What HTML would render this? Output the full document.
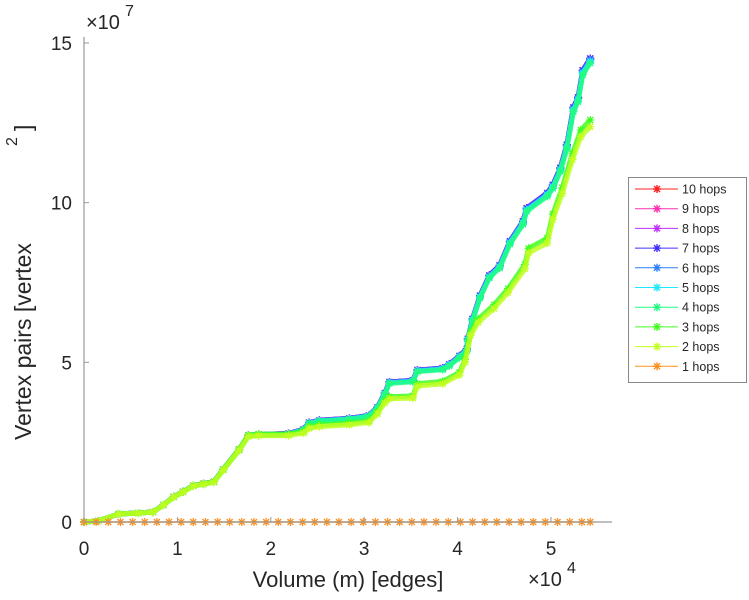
<!DOCTYPE html>
<html><head><meta charset="utf-8"><style>
body{margin:0;background:#fff;}
svg{display:block;font-family:"Liberation Sans",sans-serif;}
</style></head><body>
<svg id="chart" width="749" height="600" viewBox="0 0 749 600">
<g id="series"></g>
<g id="axes"></g>
</svg>
<script>
const xTicks=[0,1,2,3,4,5];
const yTicks=[0,5,10,15];
const seriesNames=["10 hops","9 hops","8 hops","7 hops","6 hops","5 hops","4 hops","3 hops","2 hops","1 hops"];
const seriesColors=["#ff2020","#ff30b0","#c030ff","#4030ff","#2f80ff","#20e8ff","#20ff80","#40ff20","#c0ff20","#ff9020"];
const upperX=[0,0.15,0.37,0.58,0.74,0.85,0.96,1.06,1.17,1.28,1.39,1.49,1.66,1.76,1.87,2.19,2.35,2.41,2.52,2.84,3.05,3.14,3.22,3.27,3.52,3.57,3.84,3.91,4.02,4.10,4.11,4.16,4.24,4.34,4.45,4.56,4.70,4.74,4.96,5.02,5.10,5.17,5.24,5.29,5.34,5.42];
const upperY=[0,0.03,0.25,0.28,0.31,0.53,0.78,0.94,1.13,1.19,1.25,1.63,2.25,2.69,2.72,2.75,2.88,3.09,3.16,3.22,3.31,3.56,4.0,4.35,4.4,4.72,4.78,4.9,5.16,5.38,5.69,6.31,7.03,7.66,7.97,8.72,9.34,9.75,10.22,10.47,11.0,11.72,12.88,13.19,14.03,14.4];
const lowerX=[0,0.15,0.37,0.58,0.74,0.85,0.96,1.06,1.17,1.28,1.39,1.49,1.66,1.76,1.87,2.19,2.35,2.41,2.52,2.84,3.05,3.14,3.22,3.27,3.52,3.57,3.84,4.02,4.08,4.14,4.22,4.39,4.54,4.72,4.76,4.96,5.02,5.12,5.23,5.32,5.42];
const lowerY=[0,0.03,0.25,0.28,0.31,0.53,0.78,0.94,1.13,1.19,1.25,1.63,2.25,2.69,2.72,2.72,2.8,2.95,3.0,3.06,3.13,3.4,3.75,3.88,3.9,4.28,4.35,4.63,5.03,5.88,6.28,6.72,7.22,7.97,8.47,8.78,9.53,10.34,11.41,12.13,12.44];
const yOffsets=[0.08,0.08,0.08,0.08,0.05,0.02,-0.02,0.12,-0.05,0];
const flatX=[0,0.13,0.26,0.39,0.52,0.65,0.78,0.91,1.04,1.17,1.3,1.43,1.56,1.69,1.82,1.95,2.08,2.21,2.34,2.47,2.6,2.73,2.86,2.99,3.12,3.25,3.38,3.51,3.64,3.77,3.9,4.03,4.16,4.29,4.42,4.55,4.68,4.81,4.94,5.07,5.2,5.33,5.42];
const flatY=flatX.map(()=>0);

const X0=84,X1=551,Y0=522,Y1=43;
const sx=v=>X0+(X1-X0)*v/5;
const sy=v=>Y0-(Y0-Y1)*v/15;
const NS="http://www.w3.org/2000/svg";
function mk(tag,attrs,parent){const e=document.createElementNS(NS,tag);for(const k in attrs)e.setAttribute(k,attrs[k]);parent.appendChild(e);return e;}
const sg=document.getElementById('series');
function star(g,x,y,c){
  const p=mk('path',{d:`M${x-4},${y}H${x+4}M${x},${y-4}V${y+4}M${x-3},${y-3}L${x+3},${y+3}M${x-3},${y+3}L${x+3},${y-3}`,stroke:c,'stroke-width':1.3,fill:'none'},g);
  
  
}
seriesNames.forEach((n,i)=>{
  let xs,ys;
  if(i===9){xs=flatX;ys=flatY;}
  else if(i===7||i===8){xs=lowerX;ys=lowerY;}
  else {xs=upperX;ys=upperY;}
  const off=yOffsets[i];
  const g=mk('g',{},sg);
  
  
  const pts=xs.map((x,k)=>[sx(x),sy(ys[k]>0?ys[k]+off*ys[k]/10:ys[k])]);
  const pl=mk('polyline',{points:pts.map(p=>p.join(',')).join(' '),fill:'none',stroke:seriesColors[i],'stroke-width':i===9?1.5:5,'stroke-linejoin':'round','stroke-opacity':i===9?1:0.85},g);
  
  
  pts.forEach(p=>star(g,p[0],p[1],seriesColors[i]));
});
const ax=document.getElementById('axes');
let l=mk('line',{x1:X0,y1:37,x2:X0,y2:Y0,stroke:'#999','stroke-width':1.2},ax);

l=mk('line',{x1:X0,y1:Y0,x2:612,y2:Y0,stroke:'#999','stroke-width':1.2},ax);

xTicks.forEach(t=>{
  mk('line',{x1:sx(t),y1:Y0,x2:sx(t),y2:Y0-5,stroke:'#999'},ax);
  const tx=mk('text',{x:sx(t),y:555,'font-size':19,'text-anchor':'middle',fill:'#262626'},ax);
  tx.textContent=t;
  
});
yTicks.forEach(t=>{
  mk('line',{x1:X0,y1:sy(t),x2:X0+5,y2:sy(t),stroke:'#999'},ax);
  const tx=mk('text',{x:72,y:sy(t)+7,'font-size':19,'text-anchor':'end',fill:'#262626'},ax);
  tx.textContent=t;
  
});
</script>
<svg style="position:absolute;left:0;top:0" width="749" height="600">
<text x="86" y="29" font-size="20" fill="#262626">×10</text>
<text x="125" y="16" font-size="16" fill="#262626">7</text>
<text x="528" y="586" font-size="20" fill="#262626">×10</text>
<text x="567" y="573" font-size="16" fill="#262626">4</text>
<text x="348" y="587" font-size="22" text-anchor="middle" fill="#262626">Volume (m) [edges]</text>
<text transform="translate(31,440) rotate(-90)" font-size="23" fill="#262626">Vertex pairs [vertex</text>
<text transform="translate(17,146) rotate(-90)" font-size="16" fill="#262626">2</text>
<text transform="translate(31,131) rotate(-90)" font-size="23" fill="#262626">]</text>
<g id="lg">
<rect x="628.5" y="177.5" width="118" height="205" fill="#fff" stroke="#888"/>
</g>
</svg>
<script>
(function(){
const NS="http://www.w3.org/2000/svg";
const lg=document.getElementById('lg');
const names=["10 hops","9 hops","8 hops","7 hops","6 hops","5 hops","4 hops","3 hops","2 hops","1 hops"];
const cols=["#ff2020","#ff30b0","#c030ff","#4030ff","#2f80ff","#20e8ff","#20ff80","#40ff20","#c0ff20","#ff9020"];
names.forEach((n,i)=>{
  const y=189+i*19.7;
  const g=document.createElementNS(NS,'g');
  
  
  g.innerHTML=`<line x1="635" y1="${y}" x2="678" y2="${y}" stroke="${cols[i]}"/>`+
   `<path d="M653,${y}H661M657,${y-4}V${y+4}M654,${y-3}L660,${y+3}M654,${y+3}L660,${y-3}" stroke="${cols[i]}" stroke-width="1.4"/>`+
   `<text x="682" y="${y+4.5}" font-size="12.5" fill="#262626" font-family="Liberation Sans, sans-serif">${n}</text>`;
  lg.appendChild(g);
});
})();
</script>
</body></html>
